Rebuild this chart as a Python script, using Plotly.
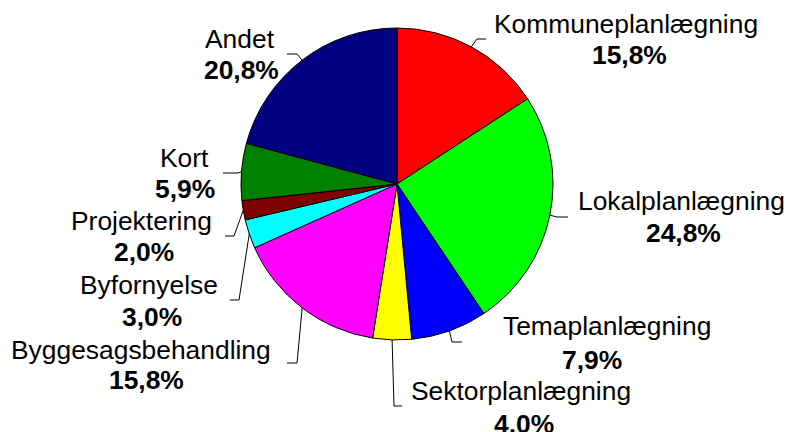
import math
import plotly.graph_objects as go

# ---- data ----
categories = ["Kommuneplanlægning", "Lokalplanlægning", "Temaplanlægning",
              "Sektorplanlægning", "Byggesagsbehandling", "Byfornyelse",
              "Projektering", "Kort", "Andet"]
values = [15.8, 24.8, 7.9, 4.0, 15.8, 3.0, 2.0, 5.9, 20.8]
colors = ["#FF0000", "#00FF00", "#0000FF", "#FFFF00", "#FF00FF",
          "#00FFFF", "#800000", "#008000", "#000080"]

# ---- layout (window pixels) ----
W, H = 787, 432
CX, CY, R = 397, 184, 156
FONT = "Liberation Sans, Arial, sans-serif"
FS = 26.4

# label placement: (name x, name y, pct x, pct y), leader elbow (x, y), leader end x
label_pos = [
    (626, 24, 629, 55),
    (681, 201, 683, 233),
    (607, 326, 592, 360),
    (521, 391, 524, 424),
    (141, 350, 146, 380),
    (149, 285, 152, 317),
    (141, 221, 144, 252),
    (184, 158, 185, 189),
    (240, 39, 242, 70),
]
leader_elbow = [(477, 39), (557, 217), (452, 342), (394, 406), (297, 363),
                (239, 300), (234, 236), (238, 173), (297, 54)]
leader_end = [486, 568, 462, 402, 287, 230, 225, 223, 287]


def px(x):
    return x / W


def py(y):
    return 1 - y / H


fig = go.Figure(go.Pie(
    labels=categories,
    values=values,
    sort=False,
    direction="clockwise",
    rotation=0,
    marker=dict(colors=colors, line=dict(color="#000000", width=1)),
    textinfo="none",
    hoverinfo="label+percent",
    showlegend=False,
    domain=dict(x=[px(CX - R), px(CX + R)], y=[py(CY + R), py(CY - R)]),
))

annotations = []
shapes = []
total = sum(values)
cum = 0.0
for i, (cat, v) in enumerate(zip(categories, values)):
    mid = (cum + v / 2) / total * 2 * math.pi
    cum += v
    sx = CX + R * math.sin(mid)
    sy = CY - R * math.cos(mid)
    ex, ey = leader_elbow[i]
    shapes.append(dict(
        type="path", xref="paper", yref="paper",
        path=f"M {px(sx)},{py(sy)} L {px(ex)},{py(ey)} L {px(leader_end[i])},{py(ey)}",
        line=dict(color="#000000", width=1),
    ))
    nx, ny, qx, qy = label_pos[i]
    annotations.append(dict(
        x=px(nx), y=py(ny), xref="paper", yref="paper", text=cat,
        showarrow=False, xanchor="center", yanchor="middle",
        font=dict(family=FONT, size=FS, color="#000000"),
    ))
    pct = f"{v / total * 100:.1f}".replace(".", ",") + "%"
    annotations.append(dict(
        x=px(qx), y=py(qy), xref="paper", yref="paper", text=f"<b>{pct}</b>",
        showarrow=False, xanchor="center", yanchor="middle",
        font=dict(family=FONT, size=FS, color="#000000"),
    ))

fig.update_layout(
    width=W, height=H,
    margin=dict(l=0, r=0, t=0, b=0),
    paper_bgcolor="#FFFFFF",
    plot_bgcolor="#FFFFFF",
    annotations=annotations,
    shapes=shapes,
)

fig.write_html(
    "out.html",
    config={"displayModeBar": False},
    post_script="document.body.style.margin='0';document.body.style.overflow='hidden';",
)
